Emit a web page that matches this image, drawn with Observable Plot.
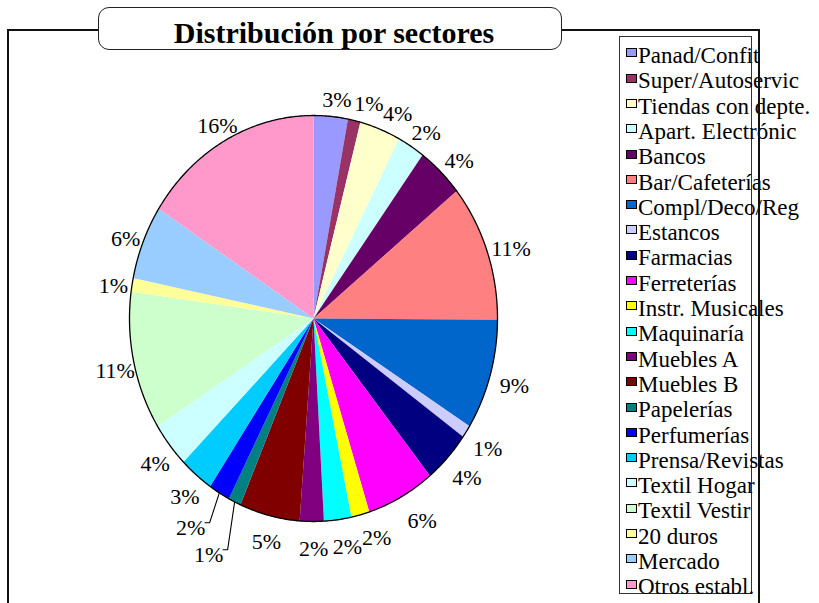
<!DOCTYPE html>
<html>
<head>
<meta charset="utf-8">
<script src="https://cdn.jsdelivr.net/npm/d3@7"></script>
<script src="https://cdn.jsdelivr.net/npm/@observablehq/plot@0.6"></script>
<style>
  html, body { margin: 0; padding: 0; background: #fff; }
  #chart { position: relative; width: 819px; height: 603px; overflow: hidden; background: #fff;
           font-family: "Liberation Serif", "Times New Roman", serif; color: #000; }
  #chart svg { position: absolute; left: 0; top: 0; }
  .frame { position: absolute; left: 7px; top: 29px; width: 749px; height: 700px;
           border-left: 2px solid #111; border-top: 2px solid #111; border-right: 2px solid #111; }
  .titlebox { position: absolute; left: 98px; top: 7px; width: 462px; height: 41px;
              border: 1.4px solid #222; border-radius: 11px; background: #fff; }
  .title { position: absolute; left: 0; width: 668px; top: 18.2px; text-align: center;
           font-weight: bold; font-size: 30px; line-height: 30px; white-space: nowrap; }
  .legendbox { position: absolute; left: 619px; top: 36px; width: 131px; height: 556px;
               border: 1.5px solid #333; }
  .sw { position: absolute; left: 626px; width: 9px; height: 7px; border: 1px solid #000; }
  .lt { position: absolute; left: 638px; font-size: 23px; line-height: 23px; white-space: nowrap; }
</style>
</head>
<body>
<div id="chart"></div>
<script>
// ---- data ----
const sectors = ["Panad/Confit","Super/Autoservic","Tiendas con depte.","Apart. Electrónic","Bancos",
  "Bar/Cafeterías","Compl/Deco/Reg","Estancos","Farmacias","Ferreterías","Instr. Musicales",
  "Maquinaría","Muebles A","Muebles B","Papelerías","Perfumerías","Prensa/Revistas",
  "Textil Hogar","Textil Vestir","20 duros","Mercado","Otros establ."];
const shares = [3.0,1.1,3.6,2.4,4.1,10.9,8.8,1.0,4.2,6.0,1.6,2.4,2.1,5.3,1.1,1.9,3.0,3.6,11.0,1.1,5.9,15.9];
const colors = ["#9999FF","#993366","#FFFFCC","#CCFFFF","#660066","#FF8080","#0066CC","#CCCCFF",
  "#000080","#FF00FF","#FFFF00","#00FFFF","#800080","#800000","#008080","#0000FF","#00CCFF",
  "#CCFFFF","#CCFFCC","#FFFF99","#99CCFF","#FF99CC"];
const chartTitle = "Distribución por sectores";

// ---- layout ----
const cx = 313, cy = 318, rx = 184, ry = 203;
const labelFont = 22;
// manual label nudges (pixels), incl. the two labels that were moved out with leader lines
const nudges = {"Super/Autoservic": [6, 0], "Tiendas con depte.": [6, 0],
  "Ferreterías": [7, 0], "Instr. Musicales": [7, -3], "Maquinaría": [3, 0]};
const leaderNudges = {"Papelerías": [-19, 28], "Perfumerías": [-20, 11]};

const total = d3.sum(shares);
const slices = [];
let acc = 0;
sectors.forEach((name, i) => {
  const a0 = acc / total * 2 * Math.PI;
  acc += shares[i];
  const a1 = acc / total * 2 * Math.PI;
  slices.push({name, a0, a1, mid: (a0 + a1) / 2, pct: Math.round(shares[i] / total * 100) + "%"});
});

// slice polygons in unit-ellipse data space (angle clockwise from 12 o'clock)
const polys = [];
for (const s of slices) {
  polys.push({name: s.name, x: 0, y: 0});
  const n = Math.max(2, Math.ceil((s.a1 - s.a0) / (Math.PI / 360)));
  for (let k = 0; k <= n; k++) {
    const t = s.a0 + (s.a1 - s.a0) * k / n;
    polys.push({name: s.name, x: Math.sin(t), y: Math.cos(t)});
  }
  polys.push({name: s.name, x: 0, y: 0});
}
const outline = d3.range(0, 721).map(k => {
  const t = k / 720 * 2 * Math.PI;
  return {x: Math.sin(t), y: Math.cos(t)};
});

// labels
const labels = [];
const leaders = [];
for (const s of slices) {
  const sx = Math.sin(s.mid), sy = Math.cos(s.mid);
  let px = sx * 21 + (sx > 0 ? 4 : 2);   // pixel offsets from the rim
  let py = -(sy * 22) + 5;                // (screen y downwards)
  const nd = nudges[s.name] || leaderNudges[s.name];
  if (nd) { px += nd[0]; py += nd[1]; }
  const lx = sx + px / rx, ly = sy - py / ry;
  labels.push({name: s.name, text: s.pct, x: lx, y: ly});
  if (leaderNudges[s.name]) {
    const halfW = 14;
    const endX = lx + halfW / rx, endY = ly + 5 / ry;
    leaders.push({name: s.name, x: sx, y: sy});
    leaders.push({name: s.name, x: endX + 5 / rx, y: endY});
    leaders.push({name: s.name, x: endX, y: endY});
  }
}

const plot = Plot.plot({
  width: 819,
  height: 603,
  margin: 0,
  style: {background: "transparent", overflow: "visible"},
  x: {domain: [-1, 1], range: [cx - rx, cx + rx], axis: null},
  y: {domain: [-1, 1], range: [cy + ry, cy - ry], axis: null},
  color: {domain: sectors, range: colors},
  marks: [
    Plot.line(polys, {x: "x", y: "y", z: "name", fill: "name", stroke: null, curve: "linear"}),
    Plot.line(outline, {x: "x", y: "y", stroke: "#000", strokeWidth: 1.3, curve: "linear"}),
    Plot.line(leaders, {x: "x", y: "y", z: "name", stroke: "#000", strokeWidth: 1.1, curve: "linear",
      strokeLinecap: "butt", strokeLinejoin: "miter"}),
    Plot.text(labels, {x: "x", y: "y", text: "text", fontSize: labelFont,
      fontFamily: "Liberation Serif, Times New Roman, serif", fill: "#000"})
  ]
});

// ---- assemble ----
const chart = document.getElementById("chart");
chart.appendChild(plot);

const legendBox = document.createElement("div");
legendBox.className = "legendbox";
chart.appendChild(legendBox);
sectors.forEach((name, i) => {
  const sw = document.createElement("div");
  sw.className = "sw";
  sw.style.top = (48.3 + 25.3 * i) + "px";
  sw.style.background = colors[i];
  chart.appendChild(sw);
  const t = document.createElement("div");
  t.className = "lt";
  t.style.top = (44.0 + 25.3 * i) + "px";
  t.textContent = name;
  chart.appendChild(t);
});

const frame = document.createElement("div");
frame.className = "frame";
chart.appendChild(frame);

const tb = document.createElement("div");
tb.className = "titlebox";
chart.appendChild(tb);
const tt = document.createElement("div");
tt.className = "title";
tt.textContent = chartTitle;
chart.appendChild(tt);
</script>
</body>
</html>
